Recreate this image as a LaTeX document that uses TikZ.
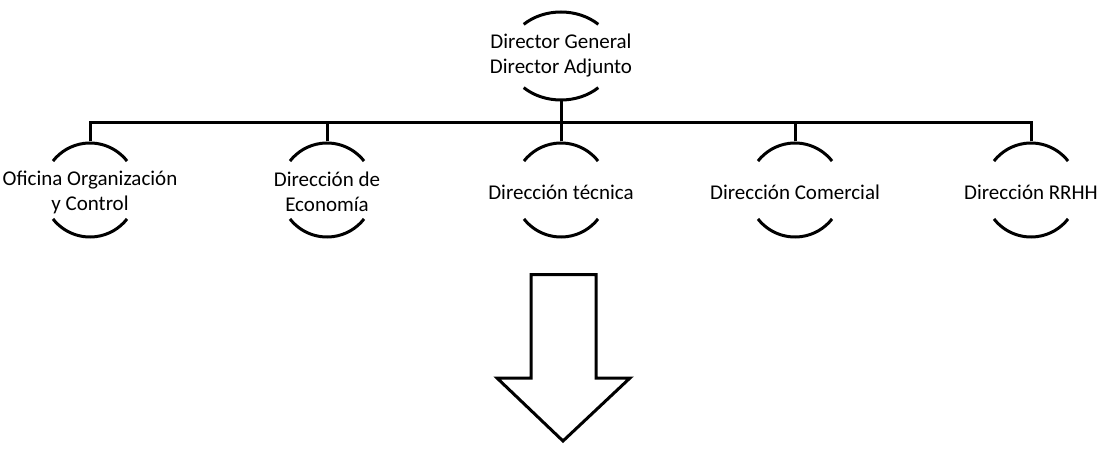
\documentclass[tikz,border=0pt]{standalone}
\usepackage{fontspec}
\setmainfont{Carlito}
\usetikzlibrary{shapes.geometric}
\begin{document}
\begin{tikzpicture}[x=1pt,y=1pt,line width=3pt,
  lbl/.style={align=center,font=\fontsize{21}{25}\selectfont,text=black,inner sep=0pt},
  ring/.style={circle,minimum size=94pt,inner sep=0pt},
  topring/.style={ellipse,minimum width=107pt,minimum height=88pt,inner sep=0pt},
  conn/.style={line width=3pt,line join=miter},
  bigarrow/.style={line width=3pt,line join=miter,fill=white}]
\useasboundingbox (0,0) rectangle (1099,-449);
% shapes (empty, fixed size)
\node[topring] (dg) at (561,-56) {};
\node[ring] (of) at (90,-190)  {};
\node[ring] (ec) at (327,-190) {};
\node[ring] (dt) at (561,-190) {};
\node[ring] (co) at (795,-190) {};
\node[ring] (rr) at (1031,-190) {};
% labels
\node[lbl] (dgt) at (dg) {Director General\\Director Adjunto};
\node[lbl] (oft) at ([yshift=-2pt]of.center) {Oficina Organización\\y Control};
\node[lbl] (ect) at ([yshift=-2pt]ec.center) {Dirección de\\Economía};
\node[lbl] (dtt) at ([yshift=-2pt]dt.center) {Dirección técnica};
\node[lbl] (cot) at ([yshift=-2pt]co.center) {Dirección Comercial};
\node[lbl] (rrt) at ([yshift=-2pt]rr.center) {Dirección RRHH};
% arcs of the top node (ellipse)
\draw ([shift={(46:53.7 and 44)}]dg.center) arc[start angle=46,end angle=134,x radius=53.7,y radius=44];
\draw ([shift={(226:53.7 and 44)}]dg.center) arc[start angle=226,end angle=314,x radius=53.7,y radius=44];
% arcs of unit nodes
\foreach \n in {of,ec,dt,co,rr}{
  \draw ([shift={(38:47)}]\n.center) arc[start angle=38,end angle=142,radius=47];
  \draw ([shift={(218:47)}]\n.center) arc[start angle=218,end angle=322,radius=47];
}
% connectors
\coordinate (bus) at (561,-123);
\draw[conn] (of.north) -- (of.north |- bus) -- (rr.north |- bus) -- (rr.north);
\draw[conn] (dg.south) -- (dg.south |- bus);
\draw[conn] (ec.north) -- (ec.north |- bus);
\draw[conn] (dt.north) -- (dt.north |- bus);
\draw[conn] (co.north) -- (co.north |- bus);
% big arrow
\draw[bigarrow] (531,-274.5) -- (596,-274.5) -- (596,-378) -- (630,-378)
  -- (563,-441) -- (497,-378) -- (531,-378) -- cycle;
\end{tikzpicture}
\end{document}
